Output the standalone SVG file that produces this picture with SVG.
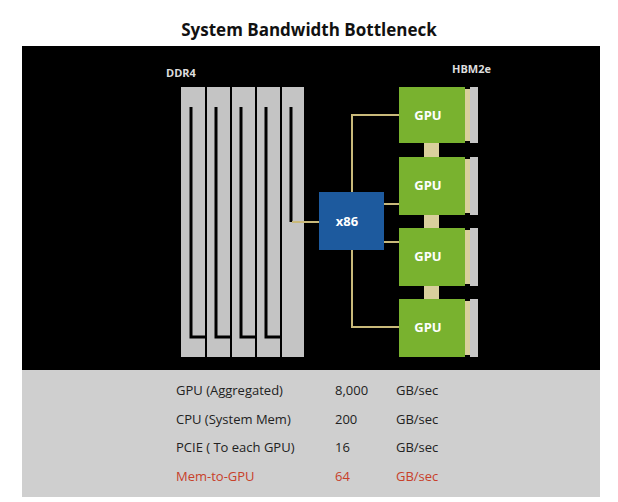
<svg xmlns="http://www.w3.org/2000/svg" width="618" height="502" viewBox="0 0 618 502">
<style>
text{font-family:"Open Sans","DejaVu Sans",sans-serif}
.gpu{fill:#79b22f}
.gl{fill:#fff;font-size:13px;font-weight:bold;text-anchor:middle}
.tan{fill:#d9cf9c}
.hbm{fill:#c6c6c6}
.con{stroke:#c9b97a;stroke-width:2;fill:none}
.dimm{fill:#c4c4c4}
.slot{stroke:#000;stroke-width:3;fill:none}
.t{font-size:13px;fill:#222}
.r{font-size:13px;fill:#c8402a}
</style>
<rect width="618" height="502" fill="#fff"/>
<text x="309" y="36" text-anchor="middle" font-size="17" font-weight="bold" fill="#111">System Bandwidth Bottleneck</text>
<rect x="22" y="46" width="578" height="324" fill="#000"/>
<rect x="22" y="370" width="578" height="127" fill="#cfcfcf"/>
<text x="166" y="77" font-size="11" font-weight="bold" fill="#ddd">DDR4</text>
<text x="452" y="73" font-size="11" font-weight="bold" fill="#ddd">HBM2e</text>
<g id="ddr4">
<rect class="dimm" x="181" y="87" width="123" height="270"/>
<path class="slot" d="M191,107V337H205M216,107V337H230M241,107V337H255M266,107V337H280M291,107V222"/>
<path stroke="#000" stroke-width="2" fill="none" d="M206,87V357M231,87V357M256,87V357M281,87V357"/>
</g>
<g id="connectors">
<line class="con" x1="292" y1="222" x2="319" y2="222" stroke-width="3"/>
<path class="con" d="M352,192V115H399"/>
<path class="con" d="M384,204H399"/>
<path class="con" d="M384,242H399"/>
<path class="con" d="M352,250V327H399"/>
<rect class="tan" x="424" y="143" width="15" height="14"/>
<rect class="tan" x="424" y="215" width="15" height="13"/>
<rect class="tan" x="424" y="286" width="15" height="13"/>
</g>
<g id="x86"><rect x="319" y="192" width="65" height="58" fill="#1d5a9e"/><text class="gl" x="347" y="226">x86</text></g>
<g id="gpu1"><rect class="gpu" x="399" y="87" width="66" height="56"/><rect class="tan" x="465" y="89" width="5" height="52"/><rect class="hbm" x="470" y="87" width="8" height="56"/><text class="gl" x="428" y="120">GPU</text></g>
<g id="gpu2"><rect class="gpu" x="399" y="157" width="66" height="58"/><rect class="tan" x="465" y="159" width="5" height="54"/><rect class="hbm" x="470" y="157" width="8" height="58"/><text class="gl" x="428" y="190">GPU</text></g>
<g id="gpu3"><rect class="gpu" x="399" y="228" width="66" height="58"/><rect class="tan" x="465" y="230" width="5" height="54"/><rect class="hbm" x="470" y="228" width="8" height="58"/><text class="gl" x="428" y="261">GPU</text></g>
<g id="gpu4"><rect class="gpu" x="399" y="299" width="66" height="58"/><rect class="tan" x="465" y="301" width="5" height="54"/><rect class="hbm" x="470" y="299" width="8" height="58"/><text class="gl" x="428" y="332">GPU</text></g>
<g id="table">
<text class="t" x="176" y="395">GPU (Aggregated)</text><text class="t" x="335" y="395">8,000</text><text class="t" x="396" y="395">GB/sec</text>
<text class="t" x="176" y="424">CPU (System Mem)</text><text class="t" x="335" y="424">200</text><text class="t" x="396" y="424">GB/sec</text>
<text class="t" x="176" y="452">PCIE ( To each GPU)</text><text class="t" x="335" y="452">16</text><text class="t" x="396" y="452">GB/sec</text>
<text class="r" x="176" y="481">Mem-to-GPU</text><text class="r" x="335" y="481">64</text><text class="r" x="396" y="481">GB/sec</text>
</g>
</svg>
